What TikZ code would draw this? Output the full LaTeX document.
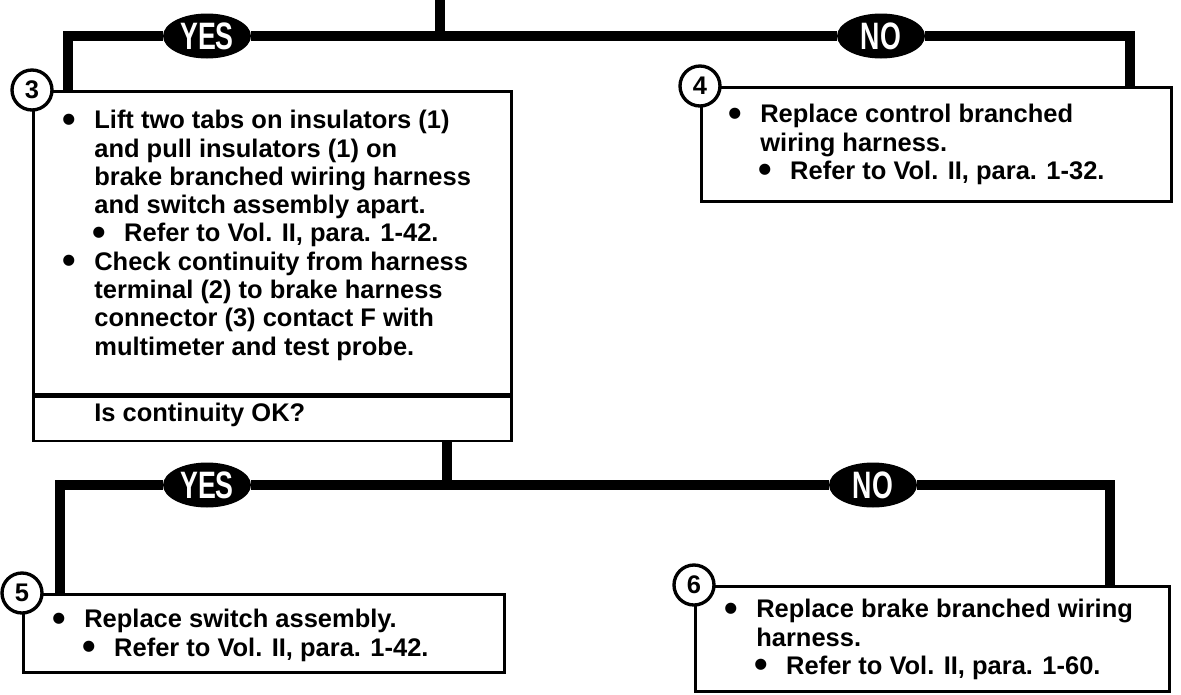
\documentclass[tikz,border=0pt]{standalone}
\usepackage{fontspec}
\setmainfont{Liberation Sans}
\usetikzlibrary{shapes.geometric}

\newcommand{\dotmark}{\raisebox{-2pt}{\fontsize{22}{22}\selectfont\textbullet}}
\newcommand{\bul}{\llap{\dotmark\hspace{10.5pt}}}
\newcommand{\subbul}{\hspace*{17pt}\bul}

\begin{document}
\begin{tikzpicture}[
    x=0.02cm, y=-0.02cm,
    every node/.style={font=\bfseries\fontsize{14.5}{16.1}\selectfont},
    stepbox/.style={draw, line width=1.5pt, fill=white, anchor=north west, inner sep=0},
    stepnum/.style={circle, draw, line width=1.9pt, fill=white, minimum size=0.8cm, inner sep=0},
    answer/.style={ellipse, fill=black, text=white, minimum width=1.76cm, minimum height=0.9cm, inner sep=0},
    txt/.style={anchor=north west, align=left, inner sep=0},
    flow/.style={line width=5.7pt}
]
\useasboundingbox (0,0) rectangle (1181,694);

% Step 3 with its question
\node[stepbox, minimum width=9.56cm, minimum height=6.06cm] (b3) at (32,90) {};
\node[stepbox, minimum width=9.56cm, minimum height=0.88cm] (q3) at (b3.south west) {};
\node[stepnum] (c3) at (b3.north west) {3};
\node[txt] (t3) at (94,110) {\bul Lift two tabs on insulators (1)\\
    and pull insulators (1) on\\
    brake branched wiring harness\\
    and switch assembly apart.\\
    \subbul Refer to Vol. II, para. 1-42.\\
    \bul Check continuity from harness\\
    terminal (2) to brake harness\\
    connector (3) contact F with\\
    multimeter and test probe.};
\node[anchor=west, inner sep=0] (q3t) at (94,415) {Is continuity OK?};

% Step 4
\node[stepbox, minimum width=9.4cm, minimum height=2.28cm] (b4) at (700,86) {};
\node[stepnum] (c4) at (b4.north west) {4};
\node[txt] (t4) at (760,104) {\bul Replace control branched\\
    wiring harness.\\
    \subbul Refer to Vol. II, para. 1-32.};

% Step 5
\node[stepbox, minimum width=9.62cm, minimum height=1.56cm] (b5) at (22,593) {};
\node[stepnum] (c5) at (b5.north west) {5};
\node[txt] (t5) at (84,609) {\bul Replace switch assembly.\\
    \subbul Refer to Vol. II, para. 1-42.};

% Step 6
\node[stepbox, minimum width=9.48cm, minimum height=2.1cm] (b6) at (694,585) {};
\node[stepnum] (c6) at (b6.north west) {6};
\node[txt] (t6) at (756,599) {\bul Replace brake branched wiring\\
    harness.\\
    \subbul Refer to Vol. II, para. 1-60.};

% Yes / No answers
\node[answer] (yes1) at (207,36) {\scalebox{1.05}[1.5]{YES}};
\node[answer] (no1) at (881,36) {\scalebox{1.05}[1.5]{NO}};
\node[answer] (yes2) at (207,485) {\scalebox{1.05}[1.5]{YES}};
\node[answer] (no2) at (873,485) {\scalebox{1.05}[1.5]{NO}};

% Flow lines
\coordinate (top) at (440,0);
\coordinate (j1) at (440,36);
\coordinate (j2) at (447,485);
\draw[flow] (top) -- (j1);
\draw[flow] (j1) -- (yes1.east);
\draw[flow] (yes1.west) -| ([xshift=0.72cm]b3.north west);
\draw[flow] (j1) -- (no1.west);
\draw[flow] (no1.east) -| ([xshift=-0.86cm]b4.north east);
\draw[flow] (q3.south -| j2) -- (j2);
\draw[flow] (j2) -- (yes2.east);
\draw[flow] (yes2.west) -| ([xshift=0.76cm]b5.north west);
\draw[flow] (j2) -- (no2.west);
\draw[flow] (no2.east) -| ([xshift=-1.22cm]b6.north east);

\end{tikzpicture}
\end{document}
